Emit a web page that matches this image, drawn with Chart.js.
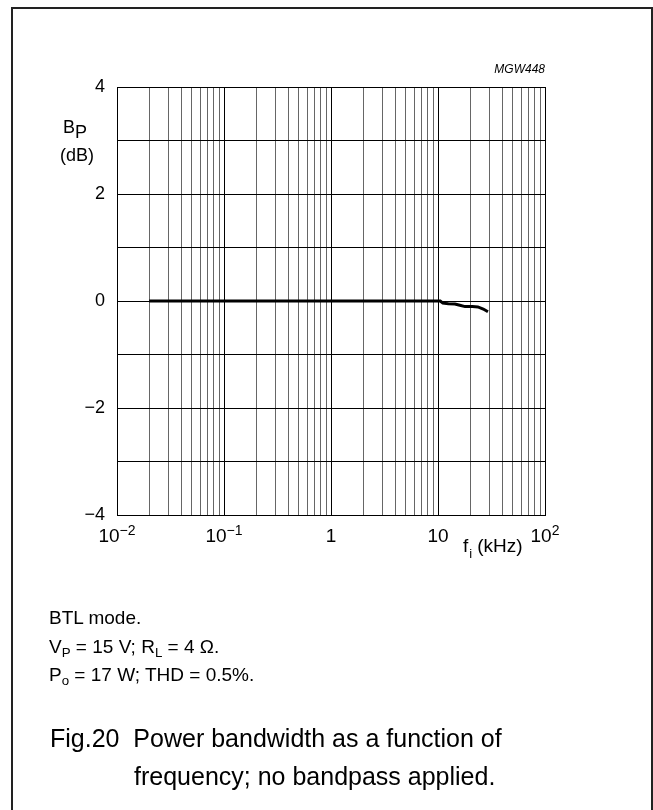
<!DOCTYPE html>
<html>
<head>
<meta charset="utf-8">
<script src="https://cdn.jsdelivr.net/npm/chart.js@4/dist/chart.umd.min.js"></script>
<style>
  html, body { margin: 0; padding: 0; background: #fff; overflow: hidden; }
  body { width: 653px; height: 810px; position: relative; font-family: Arial, 'Liberation Sans', sans-serif; color: #000; }
  #frame { position: absolute; left: 11px; top: 7px; width: 638px; height: 820px; border: 2px solid #222; }
  #wrap { position: absolute; left: 0; top: 0; width: 653px; height: 810px; }
  .txt { position: absolute; white-space: nowrap; line-height: 1; }
  .note { font-size: 19px; left: 49px; }
  .cap { font-size: 25px; }
  sub { font-size: 0.7em; vertical-align: -0.3em; line-height: 0; }
</style>
</head>
<body>
<div id="frame"></div>
<div id="wrap"><canvas id="chart" width="653" height="810"></canvas></div>
<div class="txt note" style="top:608px">BTL mode.</div>
<div class="txt note" style="top:637px">V<sub>P</sub> = 15 V; R<sub>L</sub> = 4 &Omega;.</div>
<div class="txt note" style="top:665px">P<sub>o</sub> = 17 W; THD = 0.5%.</div>
<div class="txt cap" style="left:50px; top:726px">Fig.20&nbsp;&nbsp;Power bandwidth as a function of</div>
<div class="txt cap" style="left:134px; top:764px">frequency; no bandpass applied.</div>
<script>
// curve (kHz, dB)
var freq = [0.02, 0.05, 0.1, 0.5, 1, 5, 10, 10.5, 11.1, 12.5, 14.4, 16, 17.9, 21, 23.6, 26.5, 29.3];
var bp = [0, 0, 0, 0, 0, 0, 0, 0, -0.04, -0.05, -0.055, -0.08, -0.105, -0.105, -0.11, -0.15, -0.2];

// x tick labels: base and exponent
var xTickValues = [0.01, 0.1, 1, 10, 100];
var xTickBase = ['10', '10', '1', '10', '10'];
var xTickExp = ['\u22122', '\u22121', '', '', '2'];

var yTickValues = [-4, -3, -2, -1, 0, 1, 2, 3, 4];

// grid lines on the log axis: 1..9 per decade
var xGrid = [];
[0.01, 0.1, 1, 10].forEach(function (d) {
    for (var k = 1; k <= 9; k++) xGrid.push(+(d * k).toPrecision(3));
});
xGrid.push(100);

var FONT = "Arial, 'Liberation Sans', sans-serif";

var points = freq.map(function (f, i) { return { x: f, y: bp[i] }; });

var isDecade = function (v) {
    var l = Math.log10(v);
    return Math.abs(l - Math.round(l)) < 1e-6;
};

var labelsPlugin = {
    id: 'labels',
    afterDraw: function (chart) {
        var ctx = chart.ctx;
        var xs = chart.scales.x;
        var area = chart.chartArea;
        ctx.save();
        ctx.fillStyle = '#000';
        ctx.textBaseline = 'alphabetic';
        // x tick labels with superscripts
        for (var i = 0; i < xTickValues.length; i++) {
            var px = xs.getPixelForValue(xTickValues[i]);
            ctx.font = '19px ' + FONT;
            var wb = ctx.measureText(xTickBase[i]).width;
            ctx.font = '14px ' + FONT;
            var we = xTickExp[i] ? ctx.measureText(xTickExp[i]).width : 0;
            var x0 = px - (wb + we) / 2;
            ctx.textAlign = 'left';
            ctx.font = '19px ' + FONT;
            ctx.fillText(xTickBase[i], x0, area.bottom + 27);
            if (xTickExp[i]) {
                ctx.font = '14px ' + FONT;
                ctx.fillText(xTickExp[i], x0 + wb, area.bottom + 20);
            }
        }
        // x axis title f_i (kHz)
        ctx.font = '19px ' + FONT;
        ctx.fillText('f', 463, 552);
        var wf = ctx.measureText('f').width;
        ctx.font = '13px ' + FONT;
        ctx.fillText('i', 463 + wf + 1, 558);
        ctx.font = '19px ' + FONT;
        ctx.fillText('(kHz)', 463 + wf + 9, 552);
        // y axis title B_P (dB)
        ctx.font = '18px ' + FONT;
        ctx.fillText('B', 63, 133);
        var wB = ctx.measureText('B').width;
        ctx.fillText('P', 63 + wB, 138);
        ctx.fillText('(dB)', 60, 161);
        // figure code
        ctx.font = 'italic 12px ' + FONT;
        ctx.textAlign = 'right';
        ctx.fillText('MGW448', area.right, 73);
        ctx.restore();
    }
};

new Chart(document.getElementById('chart'), {
    type: 'scatter',
    data: {
        datasets: [{
            data: points,
            showLine: true,
            borderColor: '#000',
            borderWidth: 3,
            pointRadius: 0,
            tension: 0,
            fill: false
        }]
    },
    options: {
        responsive: false,
        animation: false,
        events: [],
        devicePixelRatio: 1,
        layout: { padding: { left: 0, top: 87, right: 108, bottom: 0 } },
        plugins: { legend: { display: false }, tooltip: { enabled: false }, title: { display: false } },
        scales: {
            x: {
                type: 'logarithmic',
                min: 0.01,
                max: 100,
                afterBuildTicks: function (scale) {
                    scale.ticks = xGrid.map(function (v) { return { value: v }; });
                },
                afterFit: function (scale) { scale.height = 810 - 515; },
                ticks: { display: false },
                grid: {
                    drawTicks: false,
                    lineWidth: 1,
                    color: function (c) { return isDecade(c.tick.value) ? '#000' : '#666'; }
                },
                border: { display: true, color: '#000', width: 1 }
            },
            y: {
                min: -4,
                max: 4,
                afterBuildTicks: function (scale) {
                    scale.ticks = yTickValues.map(function (v) { return { value: v }; });
                },
                afterFit: function (scale) { scale.width = 117; },
                ticks: {
                    padding: 12,
                    color: '#000',
                    font: { family: FONT, size: 18 },
                    callback: function (v) {
                        if (v % 2 !== 0) return '';
                        return v < 0 ? '\u2212' + Math.abs(v) : String(v);
                    }
                },
                grid: { drawTicks: false, lineWidth: 1, color: '#000' },
                border: { display: true, color: '#000', width: 1 }
            }
        }
    },
    plugins: [labelsPlugin]
});
</script>
</body>
</html>
